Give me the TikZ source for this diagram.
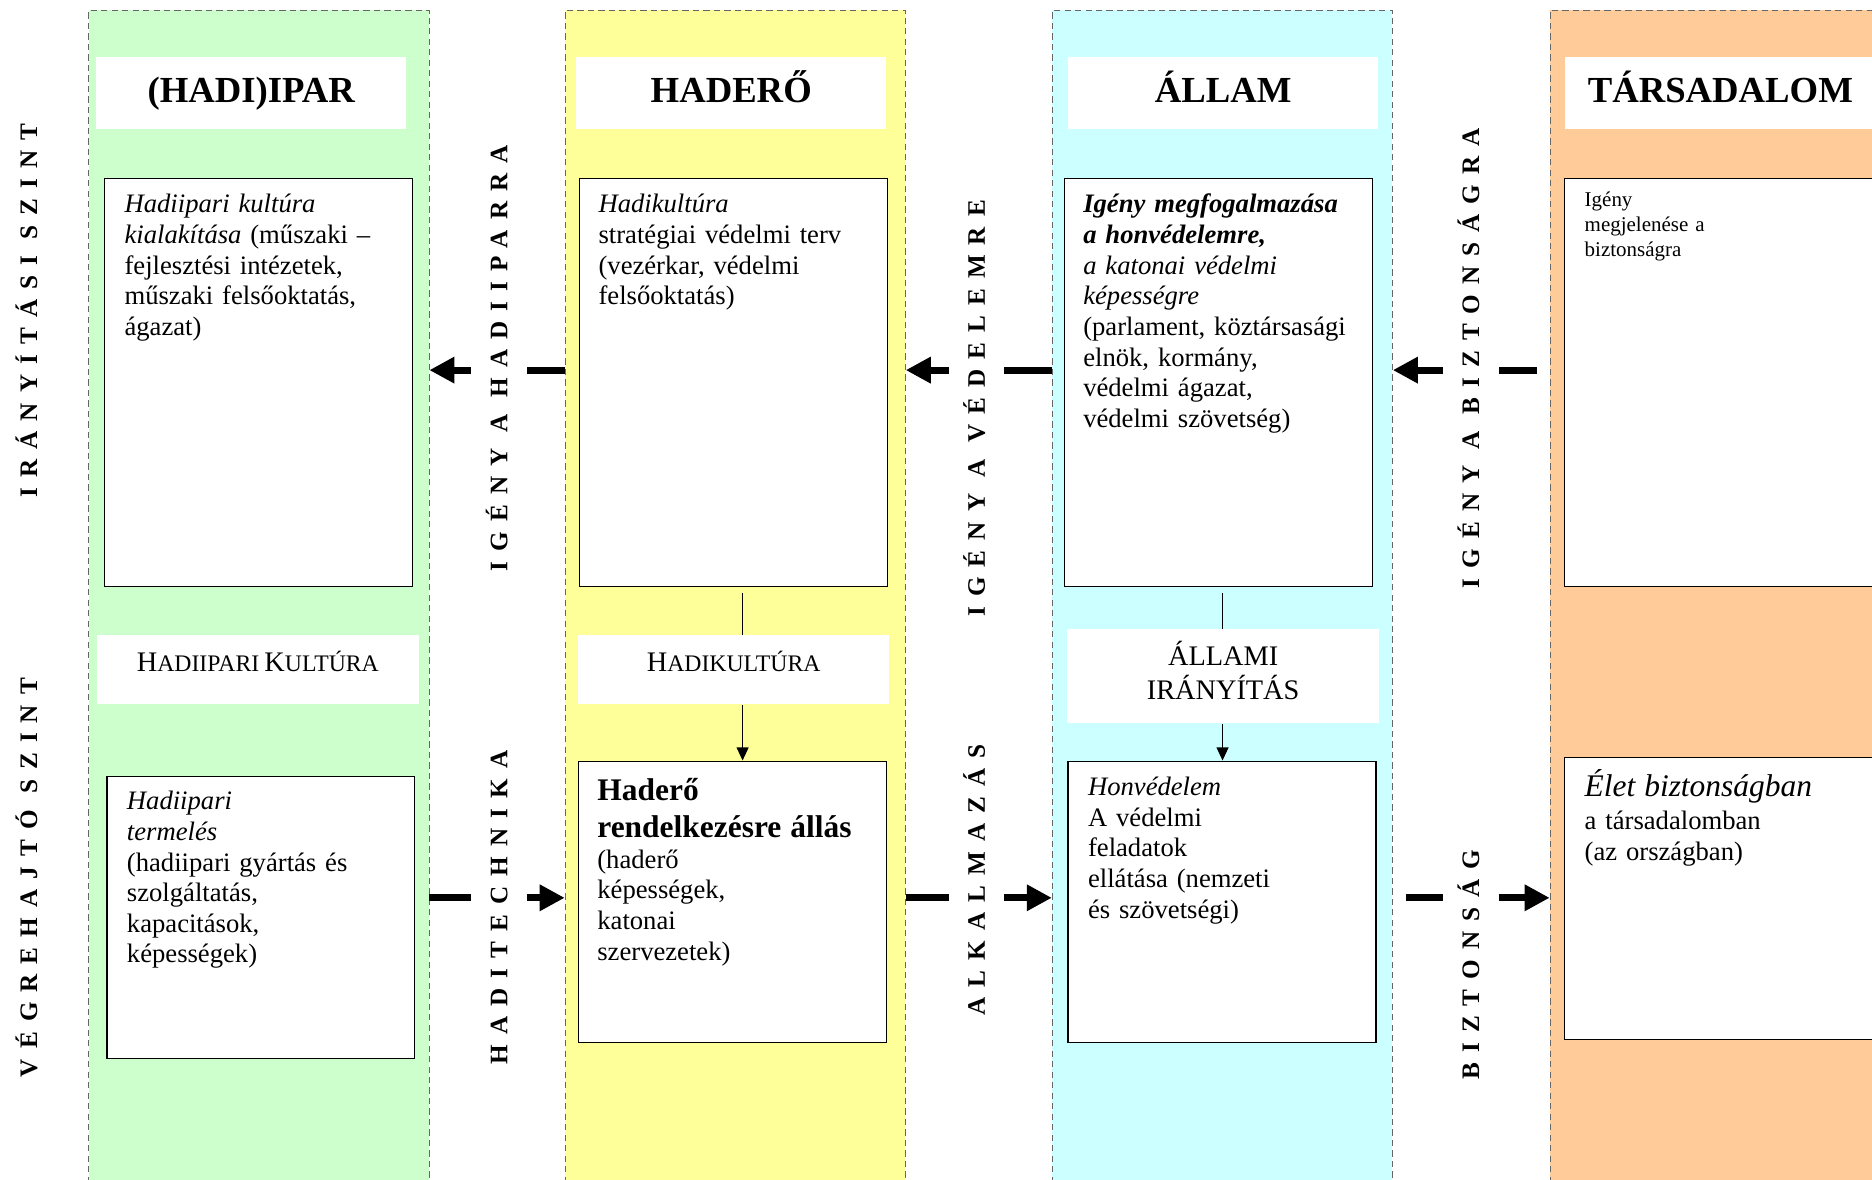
\documentclass[tikz,border=0pt]{standalone}
\usepackage{fontspec}
\setmainfont{Liberation Serif}
\newfontfamily\spacedfont[LetterSpace=40]{Liberation Serif}
\usetikzlibrary{arrows.meta}
\definecolor{iparcol}{HTML}{CCFFCC}
\definecolor{haderocol}{HTML}{FFFF99}
\definecolor{allamcol}{HTML}{CCFFFF}
\definecolor{tarscol}{HTML}{FFCC99}
\newcommand{\fakesc}[2]{{\fontsize{13.5}{16}\selectfont #1}{\fontsize{11.3}{16}\selectfont #2}}
\begin{document}
\begin{tikzpicture}[x=0.02cm,y=-0.02cm]
    \tikzset{
        colbox/.style={draw=gray!80!black, densely dashed, line width=0.4pt, anchor=north west, minimum width=5.7cm, minimum height=19.84cm},
        titlebox/.style={fill=white, minimum width=5.2cm, minimum height=1.2cm, text height=0.43cm, text depth=0.13cm, font=\bfseries\fontsize{17.5}{20}\selectfont},
        upbox/.style={draw, fill=white, line width=0.6pt, anchor=north west, minimum width=5.16cm, minimum height=6.84cm},
        lowbox/.style={draw, fill=white, line width=0.6pt, anchor=north west, minimum width=5.16cm, minimum height=4.72cm},
        midbox/.style={fill=white, minimum height=1.16cm, align=center},
        bodytext/.style={anchor=north west, inner sep=0pt, text width=4.7cm, align=left, font=\fontsize{12.7}{14.6}\selectfont},
        sidetext/.style={rotate=90, font=\spacedfont\bfseries\fontsize{12}{14}\selectfont, text height=0.28cm, text depth=0pt, inner xsep=0pt, inner ysep=0.32cm},
        thickbar/.style={line width=0.12cm},
        bigarrow/.style={line width=0.12cm, -{Triangle[length=0.42cm,width=0.42cm]}},
        thinline/.style={line width=0.6pt},
        smallarrow/.style={line width=0.6pt, -{Triangle[length=0.22cm,width=0.2cm]}}
    }
    \useasboundingbox (0,0) rectangle (1568,988);
    \clip (0,0) rectangle (1568,988);
    % columns
    \foreach \name/\x/\col in {colIpar/74/iparcol, colHadero/473/haderocol, colAllam/881/allamcol, colTars/1298/tarscol}{
        \draw node[colbox, fill=\col] (\name) at (\x,8) {};
    }
    % titles
    \foreach \name/\x/\txt in {tIpar/210.5/(HADI)IPAR, tHadero/612.5/HADERŐ, tAllam/1024.5/ÁLLAM, tTars/1441/TÁRSADALOM}{
        \draw node[titlebox] (\name) at (\x,78) {\txt};
    }
    % upper level boxes
    \foreach \name/\x in {ipUp/87, hdUp/485, alUp/891, tsUp/1310}{
        \draw node[upbox] (\name) at (\x,149) {};
    }
    % lower level boxes
    \draw node[lowbox] (ipLow) at (89,650) {};
    \draw node[lowbox] (hdLow) at (484,637) {};
    \draw node[lowbox] (alLow) at (894,637) {};
    \draw node[lowbox] (tsLow) at (1310,634) {};
    % culture labels
    \draw node[midbox, minimum width=5.4cm, text height=0.35cm, text depth=0.28cm] (ipMid) at (216,561) {\fakesc{H}{ADIIPARI} \fakesc{K}{ULTÚRA}};
    \draw node[midbox, minimum width=5.22cm, text height=0.35cm, text depth=0.28cm] (hdMid) at (614.5,561) {\fakesc{H}{ADIKULTÚRA}};
    \draw node[midbox, minimum width=5.22cm, minimum height=1.58cm, text depth=0.2cm, font=\fontsize{13.5}{16}\selectfont] (alMid) at (1024.5,566.5) {ÁLLAMI\\ IRÁNYÍTÁS};
    % box texts
    \node[bodytext] (ipUpTxt) at (104,160) {\strut\textit{Hadiipari kultúra}\\ \textit{kialakítása} (műszaki –\\ fejlesztési intézetek,\\ műszaki felsőoktatás,\\ ágazat)};
    \node[bodytext] (hdUpTxt) at (501,160) {\strut\textit{Hadikultúra}\\ stratégiai védelmi terv\\ (vezérkar, védelmi\\ felsőoktatás)};
    \node[bodytext] (alUpTxt) at (907,160) {\strut{\bfseries\itshape Igény megfogalmazása\\ a honvédelemre,}\\ {\itshape a katonai védelmi\\ képességre}\\ (parlament, köztársasági\\ elnök, kormány,\\ védelmi ágazat,\\ védelmi szövetség)};
    \node[bodytext, font=\fontsize{10}{11.9}\selectfont] (tsUpTxt) at (1327,158) {\strut Igény\\ megjelenése a\\ biztonságra};
    \node[bodytext] (ipLowTxt) at (106,660) {\strut\textit{Hadiipari}\\ \textit{termelés}\\ (hadiipari gyártás és\\ szolgáltatás,\\ kapacitások,\\ képességek)};
    \node[bodytext] (hdLowTxt) at (500,649) {{\fontsize{15}{17}\selectfont\bfseries\strut Haderő\\[1.3pt] rendelkezésre állás}\\ (haderő\\ képességek,\\ katonai\\ szervezetek)};
    \node[bodytext] (alLowTxt) at (911,648) {\strut\textit{Honvédelem}\\ A védelmi\\ feladatok\\ ellátása (nemzeti\\ és szövetségi)};
    \node[bodytext] (tsLowTxt) at (1327,644) {{\fontsize{15}{17}\selectfont\itshape\strut Élet biztonságban}\\[1.3pt] a társadalomban\\ (az országban)};
    % level names
    \node[sidetext] (sIranyitas) at (24,260) {IRÁNYÍTÁSI SZINT};
    \node[sidetext] (sVegrehajto) at (24,735) {VÉGREHAJTÓ SZINT};
    % flow labels
    \node[sidetext] (lHadiipar) at (418,300) {IGÉNY A HADIIPARRA};
    \node[sidetext] (lVedelem) at (818,342) {IGÉNY A VÉDELEMRE};
    \node[sidetext] (lBizt) at (1232,300) {IGÉNY A BIZTONSÁGRA};
    \node[sidetext] (lHaditech) at (418,760) {HADITECHNIKA};
    \node[sidetext] (lAlkalm) at (818,737) {ALKALMAZÁS};
    \node[sidetext] (lBiztonsag) at (1232,808) {BIZTONSÁG};
    \coordinate (upRow) at (0,310);
    \coordinate (lowRow) at (0,752);
    \coordinate (hx) at (622,0);
    \coordinate (ax) at (1024,0);
    % demand arrows (upper level)
    \draw[thickbar] (colHadero.west |- upRow) -- (lHadiipar.south |- upRow);
    \draw[bigarrow] (lHadiipar.north |- upRow) -- (colIpar.east |- upRow);
    \draw[thickbar] (colAllam.west |- upRow) -- (lVedelem.south |- upRow);
    \draw[bigarrow] (lVedelem.north |- upRow) -- (colHadero.east |- upRow);
    \draw[thickbar, shorten <=0.22cm] (colTars.west |- upRow) -- (lBizt.south |- upRow);
    \draw[bigarrow] (lBizt.north |- upRow) -- (colAllam.east |- upRow);
    % supply arrows (lower level)
    \draw[thickbar] (colIpar.east |- lowRow) -- (lHaditech.north |- lowRow);
    \draw[bigarrow] (lHaditech.south |- lowRow) -- (colHadero.west |- lowRow);
    \draw[thickbar] (colHadero.east |- lowRow) -- (lAlkalm.north |- lowRow);
    \draw[bigarrow] (lAlkalm.south |- lowRow) -- (colAllam.west |- lowRow);
    \draw[thickbar, shorten <=0.22cm] (colAllam.east |- lowRow) -- (lBiztonsag.north |- lowRow);
    \draw[bigarrow] (lBiztonsag.south |- lowRow) -- (colTars.west |- lowRow);
    % inner connectors
    \draw[thinline, shorten <=0.1cm] (hdUp.south -| hx) -- (hdMid.north -| hx);
    \draw[smallarrow] (hdMid.south -| hx) -- (hdLow.north -| hx);
    \draw[thinline, shorten <=0.1cm] (alUp.south -| ax) -- (alMid.north -| ax);
    \draw[smallarrow] (alMid.south -| ax) -- (alLow.north -| ax);
\end{tikzpicture}
\end{document}
